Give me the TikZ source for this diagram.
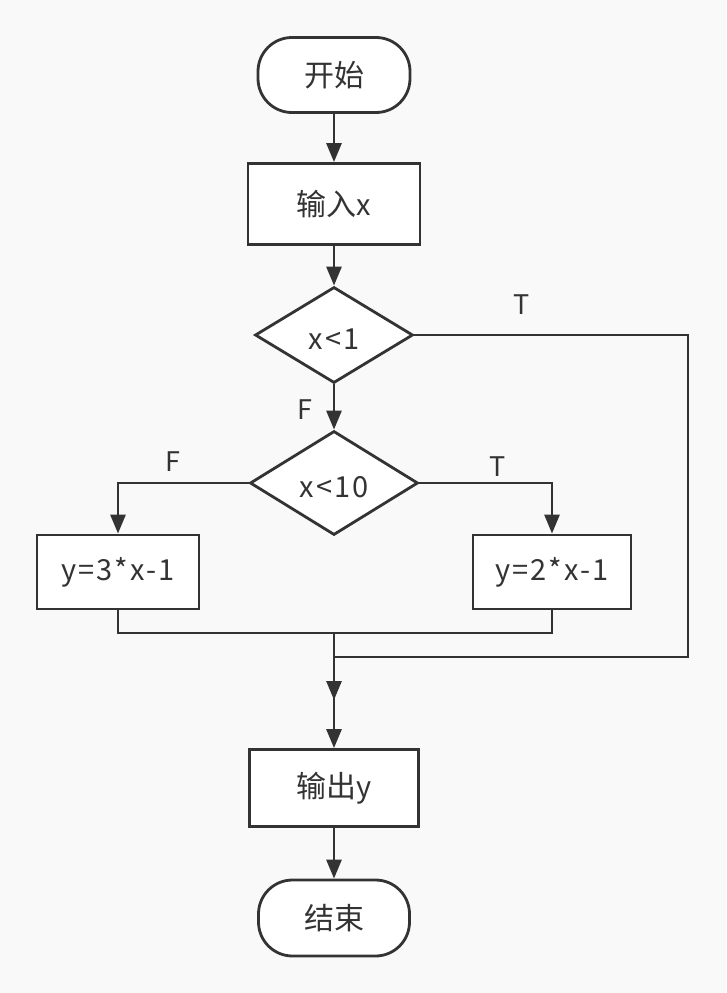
\documentclass[tikz,border=0pt]{standalone}
\usepackage{fontspec}
\setmainfont[LetterSpace=7]{Noto Sans CJK SC}
\newfontfamily\cjk{Noto Sans CJK SC}
\usetikzlibrary{shapes.geometric,arrows.meta}
\definecolor{bg}{HTML}{F9F9F9}
\definecolor{ink}{HTML}{333333}
\newcommand\txt[1]{\raisebox{-4pt}{#1}}
\newcommand\zh[1]{{\cjk\fontsize{30}{34}\selectfont #1}}
\begin{document}
\begin{tikzpicture}[x=1pt,y=-1pt,
  every node/.style={font=\fontsize{29}{33}\selectfont, text=ink},
  shp/.style={draw=ink, line width=2.8pt, fill=white, inner sep=0pt},
  term/.style={shp, rounded corners=34pt},
  procbox/.style={shp},
  decision/.style={shp, diamond},
  conn/.style={draw=ink, line width=2.8pt},
  arr/.style={conn, -{Triangle[length=19pt,width=15pt]}},
  lbl/.style={font=\fontsize{27}{31}\selectfont}
]
\fill[bg] (0,0) rectangle (726,993);
\useasboundingbox (0,0) rectangle (726,993);

\node[term, minimum width=152pt, minimum height=75pt] (start) at (334,75) {\txt{\zh{开始}}};
\node[procbox, minimum width=172pt, minimum height=81pt] (input) at (334,204) {\txt{\zh{输入}x}};
\node[decision, minimum width=158pt, minimum height=96pt] (d1) at (334,335) {};
\node at (334,339) (d1t) {\txt{x<1}};
\node[decision, minimum width=168pt, minimum height=104pt] (d2) at (334,483) {};
\node at (334,487) (d2t) {\txt{x<10}};
\node[procbox, minimum width=162pt, minimum height=74pt] (left) at (118,572) {\txt{y=3*x-1}};
\node[procbox, minimum width=158pt, minimum height=74pt] (right) at (552,572) {\txt{y=2*x-1}};
\node[procbox, minimum width=169pt, minimum height=77pt] (output) at (334,788) {\txt{\zh{输出}y}};
\node[term, minimum width=151pt, minimum height=76pt] (end) at (334,918) {\txt{\zh{结束}}};

\coordinate (merge) at (334,633);
\coordinate (loopy) at (334,657);
\coordinate (mid) at (334,700);
\coordinate (loopx) at (688,335);

\draw[arr] (start) -- (input);
\draw[arr] (input) -- (d1);
\draw[arr] (d1) -- (d2);
\draw[arr] (d2.west) -| (left.north);
\draw[arr] (d2.east) -| (right.north);
\draw[conn] (left.south) |- (merge) -| (right.south);
\draw[arr] (merge) -- (mid);
\draw[conn] (d1.east) -- (loopx) |- (loopy);
\draw[arr] (loopy) -- (output.north);
\draw[arr] (output) -- (end);

\node[lbl] (tl1) at (522,305) {T};
\node[lbl] (fl1) at (305,410) {F};
\node[lbl] (fl2) at (173,462) {F};
\node[lbl] (tl2) at (498,467) {T};
\end{tikzpicture}
\end{document}
